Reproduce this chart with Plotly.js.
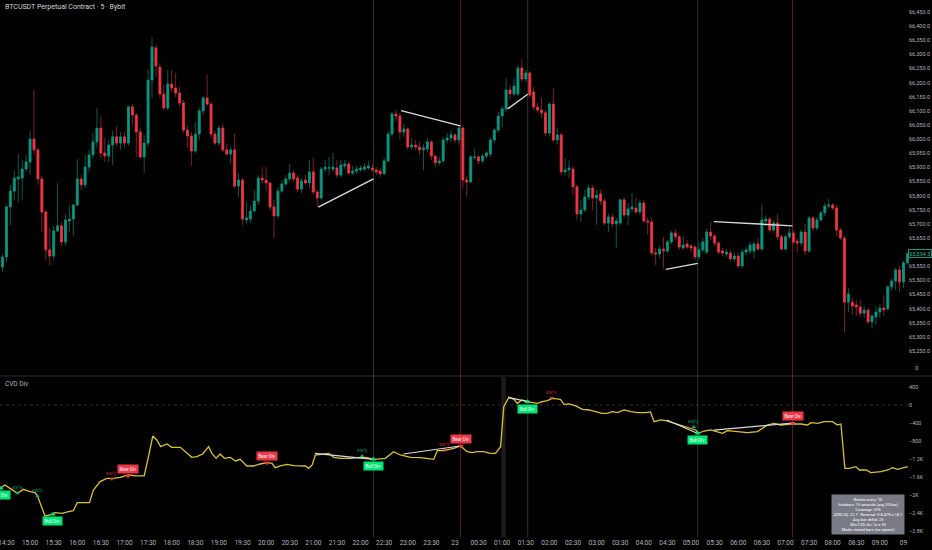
<!DOCTYPE html>
<html>
<head>
<meta charset="utf-8">
<script src="https://cdn.plot.ly/plotly-3.0.1.min.js"></script>
<style>html,body{margin:0;padding:0;background:#000;}#chart{width:932px;height:550px;}</style>
</head>
<body>
<div id="chart"></div>
<script>
// BTCUSDT 5-minute bars, bar 0 = 14:25, one bar every 5 minutes
const openPrice = [65547,65583,65760,65816,65859,65862,65894,65919,66000,65962,
65859,65742,65608,65586,65675,65693,65636,65710,65717,65767,
65859,65838,65901,65944,65990,66039,65951,65940,65979,66008,
65986,66008,65986,66114,66085,66025,65937,65986,66209,66323,
66255,66160,66110,66195,66181,66163,66128,66032,66011,65958,
66018,66100,66146,66124,66018,65986,66039,65962,65947,65962,
65834,65855,65714,65717,65746,65781,65862,65855,65845,65760,
65728,65816,65841,65859,65880,65862,65823,65855,65845,65884,
65813,65792,65894,65897,65894,65898,65873,65905,65912,65880,
65887,65891,65894,65898,65898,65891,65887,65877,65923,66018,
66089,66082,66025,66036,65972,65979,65972,65962,65965,65990,
65940,65916,65923,65997,66004,66015,65997,66039,65855,65848,
65935,65937,65923,65940,65947,65997,66032,66082,66107,66174,
66160,66160,66252,66213,66234,66167,66114,66103,66093,66022,
66124,65997,66015,65884,65891,65894,65831,65735,65749,65795,
65827,65792,65806,65781,65703,65724,65700,65703,65785,65731,
65753,65756,65742,65774,65710,65707,65597,65593,65611,65604,
65636,65668,65654,65615,65629,65622,65618,65583,65608,65600,
65671,65657,65632,65604,65593,65597,65576,65586,65551,65600,
65604,65604,65629,65611,65710,65717,65678,65703,65654,65611,
65654,65668,65639,65632,65671,65604,65721,65685,65714,65739,
65763,65767,65756,65678,65650,65423,65423,65413,65406,65384,
65395,65353,65370,65388,65402,65399,65477,65498,65537,65494,
65562];
const highPrice = [65593,65767,65838,65891,65947,65926,65944,66029,66174,65969,
65870,65749,65685,65693,65845,65707,65735,65767,65770,65930,
65873,65944,65962,66022,66110,66082,66004,65997,66029,66046,
66025,66025,66121,66124,66093,66039,66015,66245,66362,66333,
66270,66192,66245,66245,66234,66185,66139,66047,66025,66061,
66110,66153,66227,66131,66029,66047,66054,65986,65972,66018,
65880,65862,65777,65767,65820,65873,65901,65901,65848,65785,
65827,65855,65873,65912,65891,65873,65862,65873,65926,65933,
65820,65901,65926,65936,65951,65926,65926,65926,65919,65905,
65905,65908,65915,65922,65912,65901,65898,65933,66029,66096,
66103,66093,66054,66043,66004,65997,65990,65983,66004,65997,
65944,65937,66008,66022,66032,66022,66047,66047,65870,65944,
65965,65944,65947,65958,66004,66039,66096,66117,66216,66192,
66216,66262,66284,66245,66241,66185,66128,66146,66103,66131,
66181,66039,66022,65933,65926,65905,65838,65785,65820,65838,
65838,65820,65820,65792,65735,65738,65721,65788,65795,65774,
65809,65792,65785,65785,65721,65721,65615,65622,65654,65643,
65675,65682,65661,65657,65643,65629,65625,65632,65650,65685,
65707,65664,65639,65615,65611,65608,65600,65597,65611,65618,
65636,65639,65650,65770,65731,65724,65714,65735,65661,65661,
65685,65678,65650,65678,65700,65728,65728,65724,65746,65774,
65788,65774,65767,65685,65657,65473,65438,65430,65430,65409,
65402,65384,65409,65416,65448,65484,65508,65544,65551,65569,
65600];
const lowPrice = [65530,65565,65696,65785,65777,65785,65884,65873,65944,65838,
65671,65572,65554,65572,65671,65622,65622,65671,65657,65763,
65820,65827,65884,65933,65969,65933,65919,65919,65908,65976,
65962,65969,65976,66050,65937,65930,65880,65972,66146,66220,
66146,66103,66103,66167,66149,66117,66022,65969,65905,65951,
65997,66085,66117,66004,65979,65976,65954,65940,65912,65827,
65795,65696,65700,65703,65739,65767,65841,65816,65749,65650,
65721,65809,65834,65852,65848,65813,65809,65838,65827,65806,
65760,65785,65884,65873,65884,65862,65866,65891,65873,65873,
65877,65884,65887,65891,65884,65873,65866,65873,65919,66008,
66064,65997,66008,65962,65962,65962,65944,65891,65954,65926,
65901,65908,65916,65986,65990,65986,65979,65827,65795,65845,
65926,65912,65916,65933,65937,65986,66022,66043,66096,66139,
66153,66153,66202,66202,66146,66103,66093,66075,66011,66008,
65990,65979,65873,65873,65862,65802,65714,65707,65742,65785,
65749,65696,65767,65696,65671,65689,65615,65696,65721,65696,
65742,65735,65731,65703,65661,65590,65554,65579,65544,65597,
65629,65643,65608,65608,65611,65600,65572,65576,65600,65593,
65643,65622,65593,65586,65583,65569,65565,65544,65544,65590,
65593,65579,65604,65604,65693,65671,65668,65643,65608,65604,
65646,65625,65600,65622,65590,65597,65675,65678,65707,65728,
65756,65749,65657,65643,65317,65388,65377,65374,65370,65367,
65346,65331,65342,65367,65374,65392,65462,65466,65459,65473,
65554];
const closePrice = [65583,65760,65816,65862,65866,65894,65919,66000,65962,65859,
65742,65608,65586,65675,65693,65636,65714,65717,65767,65859,
65838,65901,65944,65990,66039,65951,65940,65979,66008,65986,
66008,65986,66114,66085,66025,65937,65986,66209,66326,66259,
66160,66110,66195,66181,66163,66128,66032,66011,65958,66018,
66100,66146,66124,66018,65986,66039,65962,65947,65962,65834,
65855,65717,65721,65746,65781,65862,65855,65845,65760,65728,
65816,65841,65859,65880,65859,65823,65852,65845,65884,65813,
65792,65894,65901,65899,65901,65873,65908,65912,65880,65887,
65894,65898,65901,65905,65891,65884,65877,65923,66018,66089,
66082,66025,66036,65972,65979,65972,65962,65969,65990,65940,
65916,65923,65997,66004,66015,65997,66039,65855,65848,65937,
65937,65923,65940,65951,65997,66032,66082,66107,66174,66160,
66188,66252,66213,66234,66156,66114,66103,66093,66022,66124,
65997,66015,65884,65891,65898,65831,65735,65749,65795,65827,
65792,65802,65781,65703,65724,65700,65710,65785,65731,65753,
65760,65742,65774,65710,65707,65597,65593,65611,65604,65636,
65668,65654,65618,65625,65618,65615,65583,65608,65636,65671,
65657,65632,65600,65597,65600,65576,65586,65551,65600,65608,
65625,65629,65611,65714,65717,65678,65703,65654,65611,65654,
65668,65636,65632,65671,65604,65721,65685,65714,65739,65763,
65767,65756,65678,65650,65423,65452,65409,65406,65384,65395,
65353,65374,65388,65402,65395,65477,65498,65537,65494,65562,
65594.3];

const lastPrice = 65594.3;

// Cumulative volume delta (bar position, value)
const cvdBar = [-0.6,0.6,1.9,3.8,5.3,7.0,8.3,8.9,10.8,12.1,
13.4,15.1,16.8,18.0,19.0,20.1,22.1,23.1,24.8,26.5,
28.2,29.9,32.0,34.1,36.0,37.1,38.2,39.2,40.2,41.8,
43.0,45.2,46.4,48.1,49.4,50.9,52.4,53.2,54.3,55.3,
56.4,57.9,59.2,60.4,62.1,63.8,65.5,67.2,68.5,69.3,
70.6,72.3,74.0,75.7,77.0,77.8,78.7,79.5,81.2,82.9,
84.2,85.9,88.4,91.0,92.7,94.4,97.3,99.4,101.1,103.7,
106.2,109.6,110.5,112.2,114.7,116.4,118.1,119.4,120.6,122.3,
124.0,125.3,126.6,127.4,128.7,130.0,130.8,132.1,133.4,134.6,
135.9,137.2,138.5,139.7,141.0,141.8,142.7,144.0,145.7,147.4,
149.1,150.8,152.4,153.7,155.0,156.3,158.0,159.7,161.4,163.5,
164.7,165.6,167.3,168.6,170.7,172.8,174.9,176.2,176.8,178.3,
180.0,181.7,183.0,184.3,186.8,189.3,191.9,193.2,194.4,196.1,
197.8,200.4,202.9,204.6,205.5,207.2,208.8,211.0,212.2,213.1,
214.1,215.2,216.9,217.8,219.5,220.7,223.3,225.0,226.2,227.5,
228.8,230.1];
const cvdValue = [-1852,-1778,-1852,-1963,-1874,-1926,-1948,-2022,-2466,-2444,
-2392,-2407,-2370,-2348,-2170,-2170,-2170,-1889,-1703,-1629,
-1629,-1607,-1555,-1577,-1577,-1148,-689,-777,-926,-866,
-941,-941,-1037,-1163,-1148,-1089,-926,-1074,-1185,-1089,
-1185,-1163,-1244,-1207,-1355,-1355,-1311,-1281,-1296,-1392,
-1355,-1318,-1348,-1355,-1355,-1407,-1333,-1111,-1096,-1074,
-1163,-1185,-1185,-1163,-1170,-1207,-1185,-1037,-1111,-1163,
-1170,-1207,-1015,-1015,-963,-911,-1037,-1059,-1037,-1037,
-1074,-1074,-926,-37,170,126,37,111,74,52,
37,74,96,148,126,126,15,22,-22,-96,
-111,-148,-185,-185,-148,-170,-111,-148,-170,-170,
-155,-370,-333,-348,-407,-466,-518,-555,-629,-578,
-555,-592,-629,-570,-600,-615,-592,-518,-444,-407,
-444,-422,-422,-444,-392,-407,-370,-370,-444,-422,
-1407,-1407,-1370,-1444,-1444,-1504,-1481,-1444,-1392,-1429,
-1407,-1370];

// Time axis labels (every 30 min, first at 14:30 = bar 1)
const timeLabels = ["14:30","15:00","15:30","16:00","16:30","17:00","17:30","18:00","18:30","19:00",
"19:30","20:00","20:30","21:00","21:30","22:00","22:30","23:00","23:30","23",
"00:30","01:00","01:30","02:00","02:30","03:00","03:30","04:00","04:30","05:00",
"05:30","06:00","06:30","07:00","07:30","08:00","08:30","09:00","09"];
const priceTicks = [66450,66400,66350,66300,66250,66200,66150,66100,66050,66000,65950,65900,65850,
65800,65750,65700,65650,65550,65500,65450,65400,65350,65300,65250];
const cvdTicks = [400,0,-400,-800,-1200,-1600,-2000,-2400,-2800];
const cvdTickText = ["400","0","\u2212400","\u2212800","\u22121.2K","\u22121.6K","\u22122K","\u22122.4K","\u22122.8K"];

// Confirmed divergence signals (bar position)
const signalBar = [94.3,116.4,133.5,176.7,200.8];
const signalKind = ["bull","bear","bull","bull","bear"];

// Divergence trend lines: price pane
const priceDivBarA = [80.25,101.3,128.4,168.6,180.8];
const priceDivBarB = [94.3,116.4,133.5,176.7,200.8];
const priceDivA = [65759,66101,66107,65539,65708];
const priceDivB = [65859,66047,66159,65560,65693];
// Divergence trend lines: CVD pane
const cvdDivBarA = [79.4,101.9,128.5,168.8,180.8];
const cvdDivBarB = [94.2,116.3,133.5,176.6,200.8];
const cvdDivA = [-1074,-1089,170,-333,-560];
const cvdDivB = [-1207,-911,74,-629,-400];

// Labels
const bullBar = [-0.4,12.8,94.3,133.5,176.7];
const bullCvd = [-1852,-2430,-1207,74,-629];
const bearBar = [31.9,67.2,116.5,200.8];
const bearCvd = [-1577,-1281,-911,-407];
const earlyBullBar = [3.8,8.9,91.4,175.7];
const earlyBullCvd = [-1963,-2022,-1133,-489];
const earlyBearBar = [27.8,112.4,139.6];
const earlyBearCvd = [-1644,-1000,156];

const infoLines = ["Resets every: 1D","Intrabars: 15 seconds (avg 20/bar)","Coverage: 25%",
"ATR(14): 22.7 \u00b7 Reversal: 0.8 ATR = 18.1","Avg |bar delta|: 25","Min CVD div: 2x = 50",
"Mode: closed bars (no repaint)"];

// ---------- build ----------
const barIdx = openPrice.map((_, i) => i);
const bodyHigh = openPrice.map((o, i) => Math.max(o, closePrice[i]));
const bodyLow = openPrice.map((o, i) => Math.min(o, closePrice[i]));
const tickPos = timeLabels.map((_, k) => 1 + 6 * k);

const GREEN = '#089981', RED = '#f23645';
const FONT = 'Roboto, "Liberation Sans", sans-serif';
const AX = '#b2b5be';

function segs(xa, xb, ya, yb) {
  const x = [], y = [];
  xa.forEach((v, i) => { x.push(v, xb[i], null); y.push(ya[i], yb[i], null); });
  return {x, y};
}
const pSeg = segs(priceDivBarA, priceDivBarB, priceDivA, priceDivB);
const cSeg = segs(cvdDivBarA, cvdDivBarB, cvdDivA, cvdDivB);

const traces = [
  {type:'candlestick', x:barIdx, open:openPrice, high:highPrice, low:lowPrice, close:closePrice,
   xaxis:'x', yaxis:'y', whiskerwidth:0, hoverinfo:'skip',
   increasing:{line:{color:'#0b5a4b', width:1}, fillcolor:'#0b5a4b'},
   decreasing:{line:{color:'#7d1f29', width:1}, fillcolor:'#7d1f29'}},
  {type:'candlestick', x:barIdx, open:openPrice, high:bodyHigh, low:bodyLow, close:closePrice,
   xaxis:'x', yaxis:'y', whiskerwidth:0, hoverinfo:'skip',
   increasing:{line:{color:GREEN, width:0.5}, fillcolor:GREEN},
   decreasing:{line:{color:RED, width:0.5}, fillcolor:RED}},
  {type:'scatter', mode:'lines', x:pSeg.x, y:pSeg.y, xaxis:'x', yaxis:'y',
   line:{color:'#d8dae0', width:1.4}, hoverinfo:'skip'},
  {type:'scatter', mode:'lines', x:cvdBar, y:cvdValue, xaxis:'x', yaxis:'y2',
   line:{color:'#dcc12b', width:1.3}, hoverinfo:'skip'},
  {type:'scatter', mode:'lines', x:cSeg.x, y:cSeg.y, xaxis:'x', yaxis:'y2',
   line:{color:'#d8dae0', width:1.2}, hoverinfo:'skip'},
  {type:'scatter', mode:'markers', x:earlyBullBar, y:earlyBullCvd, xaxis:'x', yaxis:'y2',
   marker:{symbol:'triangle-up', size:4, color:'#12a67a'}, hoverinfo:'skip'},
  {type:'scatter', mode:'markers', x:earlyBearBar, y:earlyBearCvd, xaxis:'x', yaxis:'y2',
   marker:{symbol:'triangle-down', size:4, color:'#e0404c'}, hoverinfo:'skip'},
  {type:'scatter', mode:'markers', x:bullBar, y:bullCvd, xaxis:'x', yaxis:'y2',
   marker:{symbol:'triangle-up', size:5, color:'#00e676'}, hoverinfo:'skip'},
  {type:'scatter', mode:'markers', x:bearBar, y:bearCvd, xaxis:'x', yaxis:'y2',
   marker:{symbol:'triangle-down', size:5, color:RED}, hoverinfo:'skip'}
];

const PH = 537, PW = 909;
const topDomain = [(PH - 375) / PH, 1];
const botDomain = [0, (PH - 377) / PH];

const shapes = [];
signalBar.forEach((b, i) => {
  shapes.push({type:'line', xref:'x', yref:'paper', x0:b, x1:b, y0:0, y1:1,
    line:{color: signalKind[i] === 'bull' ? '#10402f' : '#5a1a21', width:1}, layer:'below'});
});
shapes.push({type:'rect', xref:'x', yref:'paper', x0:126.8, x1:127.9, y0:0, y1:botDomain[1],
  fillcolor:'#1c1c1c', line:{width:0}, layer:'below'});
shapes.push({type:'line', xref:'paper', yref:'y2', x0:0, x1:1, y0:0, y1:0,
  line:{color:'#2e3038', width:1, dash:'dot'}, layer:'below'});
shapes.push({type:'line', xref:'paper', yref:'paper', x0:0, x1:932/PW, y0:(PH-376)/PH, y1:(PH-376)/PH,
  line:{color:'#2a2e39', width:1}});

const annotations = [];
annotations.push({xref:'paper', yref:'paper', x:0.003, y:(PH-7)/PH, xanchor:'left', yanchor:'middle',
  text:'BTCUSDT Perpetual Contract \u00b7 5 \u00b7 Bybit', showarrow:false, font:{size:7, color:'#d1d4dc', family:FONT}});
annotations.push({xref:'paper', yref:'paper', x:0.003, y:(PH-384)/PH, xanchor:'left', yanchor:'middle',
  text:'CVD Div', showarrow:false, font:{size:6.5, color:'#b2b5be', family:FONT}});
annotations.push({xref:'paper', yref:'paper', x:917/PW, y:(PH-368)/PH, xanchor:'center', yanchor:'middle',
  text:'0', showarrow:false, font:{size:6, color:AX, family:FONT}});
annotations.push({xref:'paper', yref:'y', x:1, y:lastPrice, xanchor:'left', yanchor:'middle', xshift:-1,
  text:lastPrice.toLocaleString('en-US',{minimumFractionDigits:1}), showarrow:false,
  bgcolor:'#000000', bordercolor:GREEN, borderwidth:1, borderpad:0.5,
  font:{size:5.4, color:'#2bbf9f', family:FONT}});
bullBar.forEach((b, i) => annotations.push({xref:'x', yref:'y2', x:b, y:bullCvd[i], yshift:-7,
  text:'Bull Div', showarrow:false, bgcolor:'#00e676', borderpad:1.5,
  font:{size:4.5, color:'#ffffff', family:FONT}}));
bearBar.forEach((b, i) => annotations.push({xref:'x', yref:'y2', x:b, y:bearCvd[i], yshift:7,
  text:'Bear Div', showarrow:false, bgcolor:RED, borderpad:1.5,
  font:{size:4.5, color:'#ffffff', family:FONT}}));
earlyBullBar.forEach((b, i) => annotations.push({xref:'x', yref:'y2', x:b, y:earlyBullCvd[i], yshift:6,
  text:'early', showarrow:false, font:{size:5, color:'#137a5b', family:FONT}}));
earlyBearBar.forEach((b, i) => annotations.push({xref:'x', yref:'y2', x:b, y:earlyBearCvd[i], yshift:6,
  text:'early', showarrow:false, font:{size:5, color:'#a8262f', family:FONT}}));
annotations.push({xref:'paper', yref:'paper', x:868/PW, y:(PH-514.5)/PH, xanchor:'center', yanchor:'middle',
  text:infoLines.join('<br>'), showarrow:false, bgcolor:'#787b86', borderpad:2, align:'center',
  font:{size:3.9, color:'#ffffff', family:FONT}});

const ytick = {size:5.5, color:AX, family:FONT};
const layout = {
  width:932, height:550, margin:{l:0, r:23, t:0, b:13},
  paper_bgcolor:'#000000', plot_bgcolor:'#000000', showlegend:false,
  font:{family:FONT, color:AX},
  xaxis:{range:[-0.64, 230.4], anchor:'y2', tickvals:tickPos, ticktext:timeLabels,
    tickfont:{size:6.5, color:AX}, showgrid:false, zeroline:false, showline:false, ticks:'',
    ticklabeloverflow:'allow', rangeslider:{visible:false}, fixedrange:true},
  yaxis:{domain:topDomain, range:[65165, 66492.5], side:'right', tickvals:priceTicks, tickformat:',.1f',
    tickfont:ytick, showgrid:false, zeroline:false, showline:false, ticks:'', ticklabelstandoff:-1,
    ticklabeloverflow:'allow'},
  yaxis2:{domain:botDomain, range:[-2933, 622], side:'right', tickvals:cvdTicks, ticktext:cvdTickText,
    tickfont:ytick, showgrid:false, zeroline:false, showline:false, ticks:'', ticklabelstandoff:-1,
    ticklabeloverflow:'allow'},
  shapes:shapes, annotations:annotations
};

Plotly.newPlot('chart', traces, layout, {displayModeBar:false, staticPlot:true});
</script>
</body>
</html>
